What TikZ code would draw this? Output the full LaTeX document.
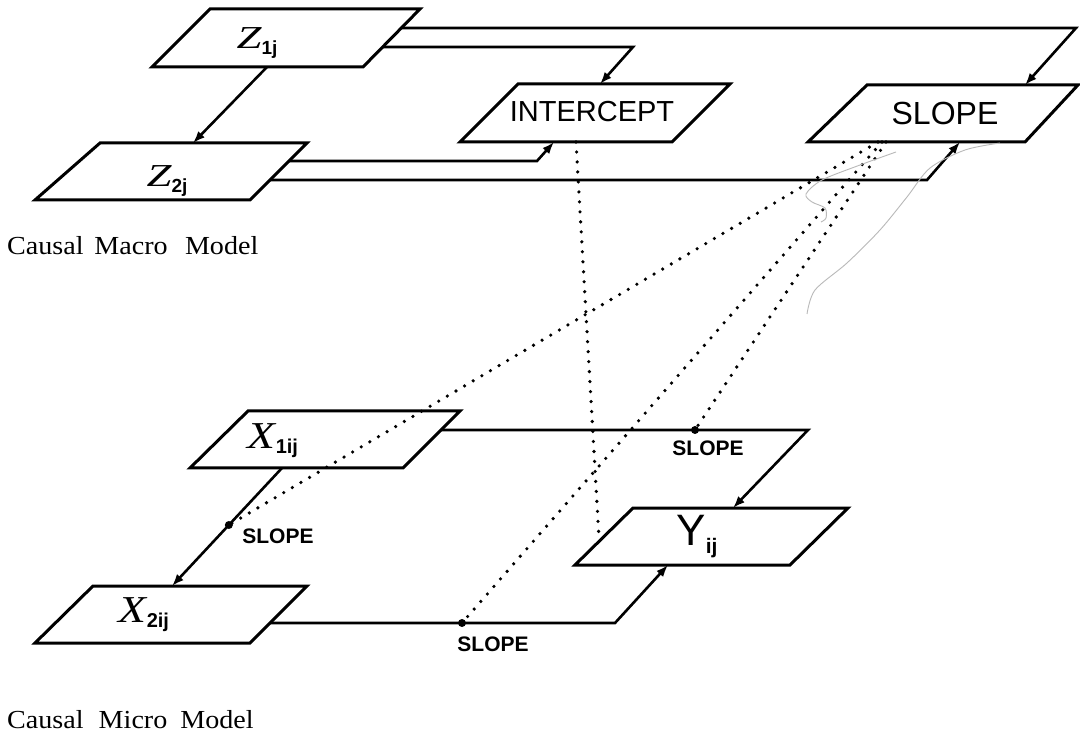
\documentclass[tikz,border=0pt]{standalone}
\usepackage{fontspec}
\setmainfont{Liberation Serif}
\newfontfamily\handfont{Liberation Sans}
\usetikzlibrary{calc,arrows.meta}
\newcommand\parabox[3]{%
  \draw[boxline] (#1.south west) -- ($(#1.south west)+(#2,0)$) -- (#1.north east) -- ($(#1.north east)+(-#3,0)$) -- cycle;}
\newcommand\varfont[1]{\fontsize{#1}{#1}\selectfont\itshape}
\newcommand\subfont[1]{\handfont\bfseries\fontsize{#1}{#1}\selectfont}
\begin{document}
\begin{tikzpicture}[x=1pt,y=-1pt,
  boxline/.style={line width=3pt, line join=miter},
  conn/.style={line width=2.6pt, line join=miter},
  arr/.style={conn, -{Latex[length=12pt,width=9pt]}},
  dots/.style={line width=3.6pt, line cap=round, dash pattern=on 0pt off 10pt},
  area/.style={inner sep=0pt, outer sep=0pt, draw=none},
  lab/.style={inner sep=0pt, outer sep=0pt, anchor=center},
  biglab/.style={lab, font=\handfont\fontsize{29}{29}\selectfont},
  smalllab/.style={lab, font=\handfont\bfseries\fontsize{21}{21}\selectfont},
  jdot/.style={fill=black, draw=none},
  pencil/.style={gray!55, line width=0.9pt},
  caption/.style={anchor=base west, inner sep=0pt, font=\fontsize{26}{26}\selectfont}
]
\useasboundingbox[fill=white] (0,0) rectangle (1080,735);

% ---------- boxes (areas) ----------
\node[area, minimum width=268pt, minimum height=58pt] (Z1) at (286,38) {};
\node[area, minimum width=272pt, minimum height=57pt] (Z2) at (171,171.5) {};
\node[area, minimum width=270pt, minimum height=58pt] (IC) at (595,113) {};
\node[area, minimum width=270pt, minimum height=57pt] (SL) at (943,113.5) {};
\node[area, minimum width=270pt, minimum height=57pt] (X1) at (325,439.5) {};
\node[area, minimum width=272pt, minimum height=57pt] (X2) at (171,614.5) {};
\node[area, minimum width=273pt, minimum height=57pt] (Y) at (711.5,536.5) {};

\parabox{Z1}{211}{210}
\parabox{Z2}{215}{207}
\parabox{IC}{212}{212}
\parabox{SL}{217}{211}
\parabox{X1}{213}{212}
\parabox{X2}{215}{214}
\parabox{Y}{215}{215}

% ---------- labels ----------
\node[lab] (z1t) at (257,43) {\scalebox{1.4}[1]{\varfont{32}Z}\raisebox{-6pt}{\subfont{19}1j}};
\node[lab] (z2t) at (167,181) {\scalebox{1.4}[1]{\varfont{32}Z}\raisebox{-6pt}{\subfont{19}2j}};
\node[biglab] (ict) at (592,112) {INTERCEPT};
\node[lab, font=\handfont\fontsize{32}{32}\selectfont] (slt) at (945,113) {SLOPE};
\node[lab] (x1t) at (273,441) {\scalebox{1.2}[1]{\varfont{38}X}\raisebox{-5pt}{\subfont{20}1ij}};
\node[lab] (x2t) at (144,615) {\scalebox{1.2}[1]{\varfont{38}X}\raisebox{-5pt}{\subfont{20}2ij}};
\node[lab] (yt) at (697,537) {{\handfont\fontsize{44}{44}\selectfont Y}\raisebox{-8pt}{\subfont{21}ij}};
\node[smalllab] (s1) at (278,536) {SLOPE};
\node[smalllab] (s2) at (493,644) {SLOPE};
\node[smalllab] (s3) at (708,448) {SLOPE};

% ---------- connection points ----------
\coordinate (z1b) at ($(Z1.south west)+(115,0)$);
\coordinate (z2top) at ($(Z2.north west)+(158,0)$);
\coordinate (z1r1) at ($(Z1.north east)+(-19,19)$);
\coordinate (z1r2) at ($(Z1.north east)+(-38,38)$);
\coordinate (z2r1) at ($(Z2.north east)+(-18,18)$);
\coordinate (z2r2) at ($(Z2.north east)+(-37,37)$);
\coordinate (slin1) at ($(SL.north west)+(217,0)$);
\coordinate (slin2) at ($(SL.south west)+(152,0)$);
\coordinate (icin1) at ($(IC.north west)+(140,0)$);
\coordinate (icin2) at ($(IC.south west)+(94,0)$);
\coordinate (icout) at ($(IC.south west)+(116,0)$);
\coordinate (slout1) at ($(SL.south west)+(70,0)$);
\coordinate (slout2) at ($(SL.south west)+(74,0)$);
\coordinate (slout3) at ($(SL.south west)+(78,0)$);

\coordinate (x1b) at ($(X1.south west)+(92,0)$);
\coordinate (x2top) at ($(X2.north west)+(137,0)$);
\coordinate (x1r) at ($(X1.north east)+(-19,19)$);
\coordinate (x2r) at ($(X2.north east)+(-37,37)$);
\coordinate (ytop) at ($(Y.north west)+(158,0)$);
\coordinate (ybot) at ($(Y.south west)+(93,0)$);
\coordinate (yleft) at ($(Y.south west)+(24,-27)$);
\coordinate (d1) at ($(x1b)!0.483!(x2top)$);
\coordinate (d2) at ($(x2r)+(192,0)$);
\coordinate (d3) at ($(x1r)+(254,0)$);

% ---------- macro connectors ----------
\draw[arr] (z1b) -- (z2top);
\draw[arr] (z1r1) -- ++(675,0) -- (slin1);
\draw[arr] (z1r2) -- ++(251,0) -- (icin1);
\draw[arr] (z2r1) -- ++(248,0) -- (icin2);
\draw[arr] (z2r2) -- ++(657,0) -- (slin2);

% ---------- micro connectors ----------
\draw[arr] (x1b) -- (x2top);
\draw[arr] (x1r) -- ++(367,0) -- (ytop);
\draw[arr] (x2r) -- ++(345,0) -- (ybot);
\fill[jdot] (d1) circle (4pt);
\fill[jdot] (d2) circle (4pt);
\fill[jdot] (d3) circle (4pt);

% ---------- dotted links ----------
\draw[dots] (icout) -- (yleft);
\draw[dots] (slout1) -- (d1);
\draw[dots] (slout2) -- (d2);
\draw[dots] (slout3) -- (d3);

% ---------- pencil marks ----------
\draw[pencil] plot[smooth] coordinates {(896,152) (860,165) (822,180) (806,194) (812,202) (825,208) (826,218) (821,222)};
\draw[pencil] plot[smooth] coordinates {(1000,143) (965,150) (930,168) (907,197) (880,230) (847,263) (815,290) (807,314)};

% ---------- captions ----------
\node[caption] (cap1) at (7,255) {\scalebox{1.08}[1]{Causal\hspace{10pt}Macro\hspace{16pt}Model}};
\node[caption] (cap2) at (7,728) {\scalebox{1.08}[1]{Causal\hspace{14pt}Micro\hspace{12pt}Model}};
\end{tikzpicture}
\end{document}
